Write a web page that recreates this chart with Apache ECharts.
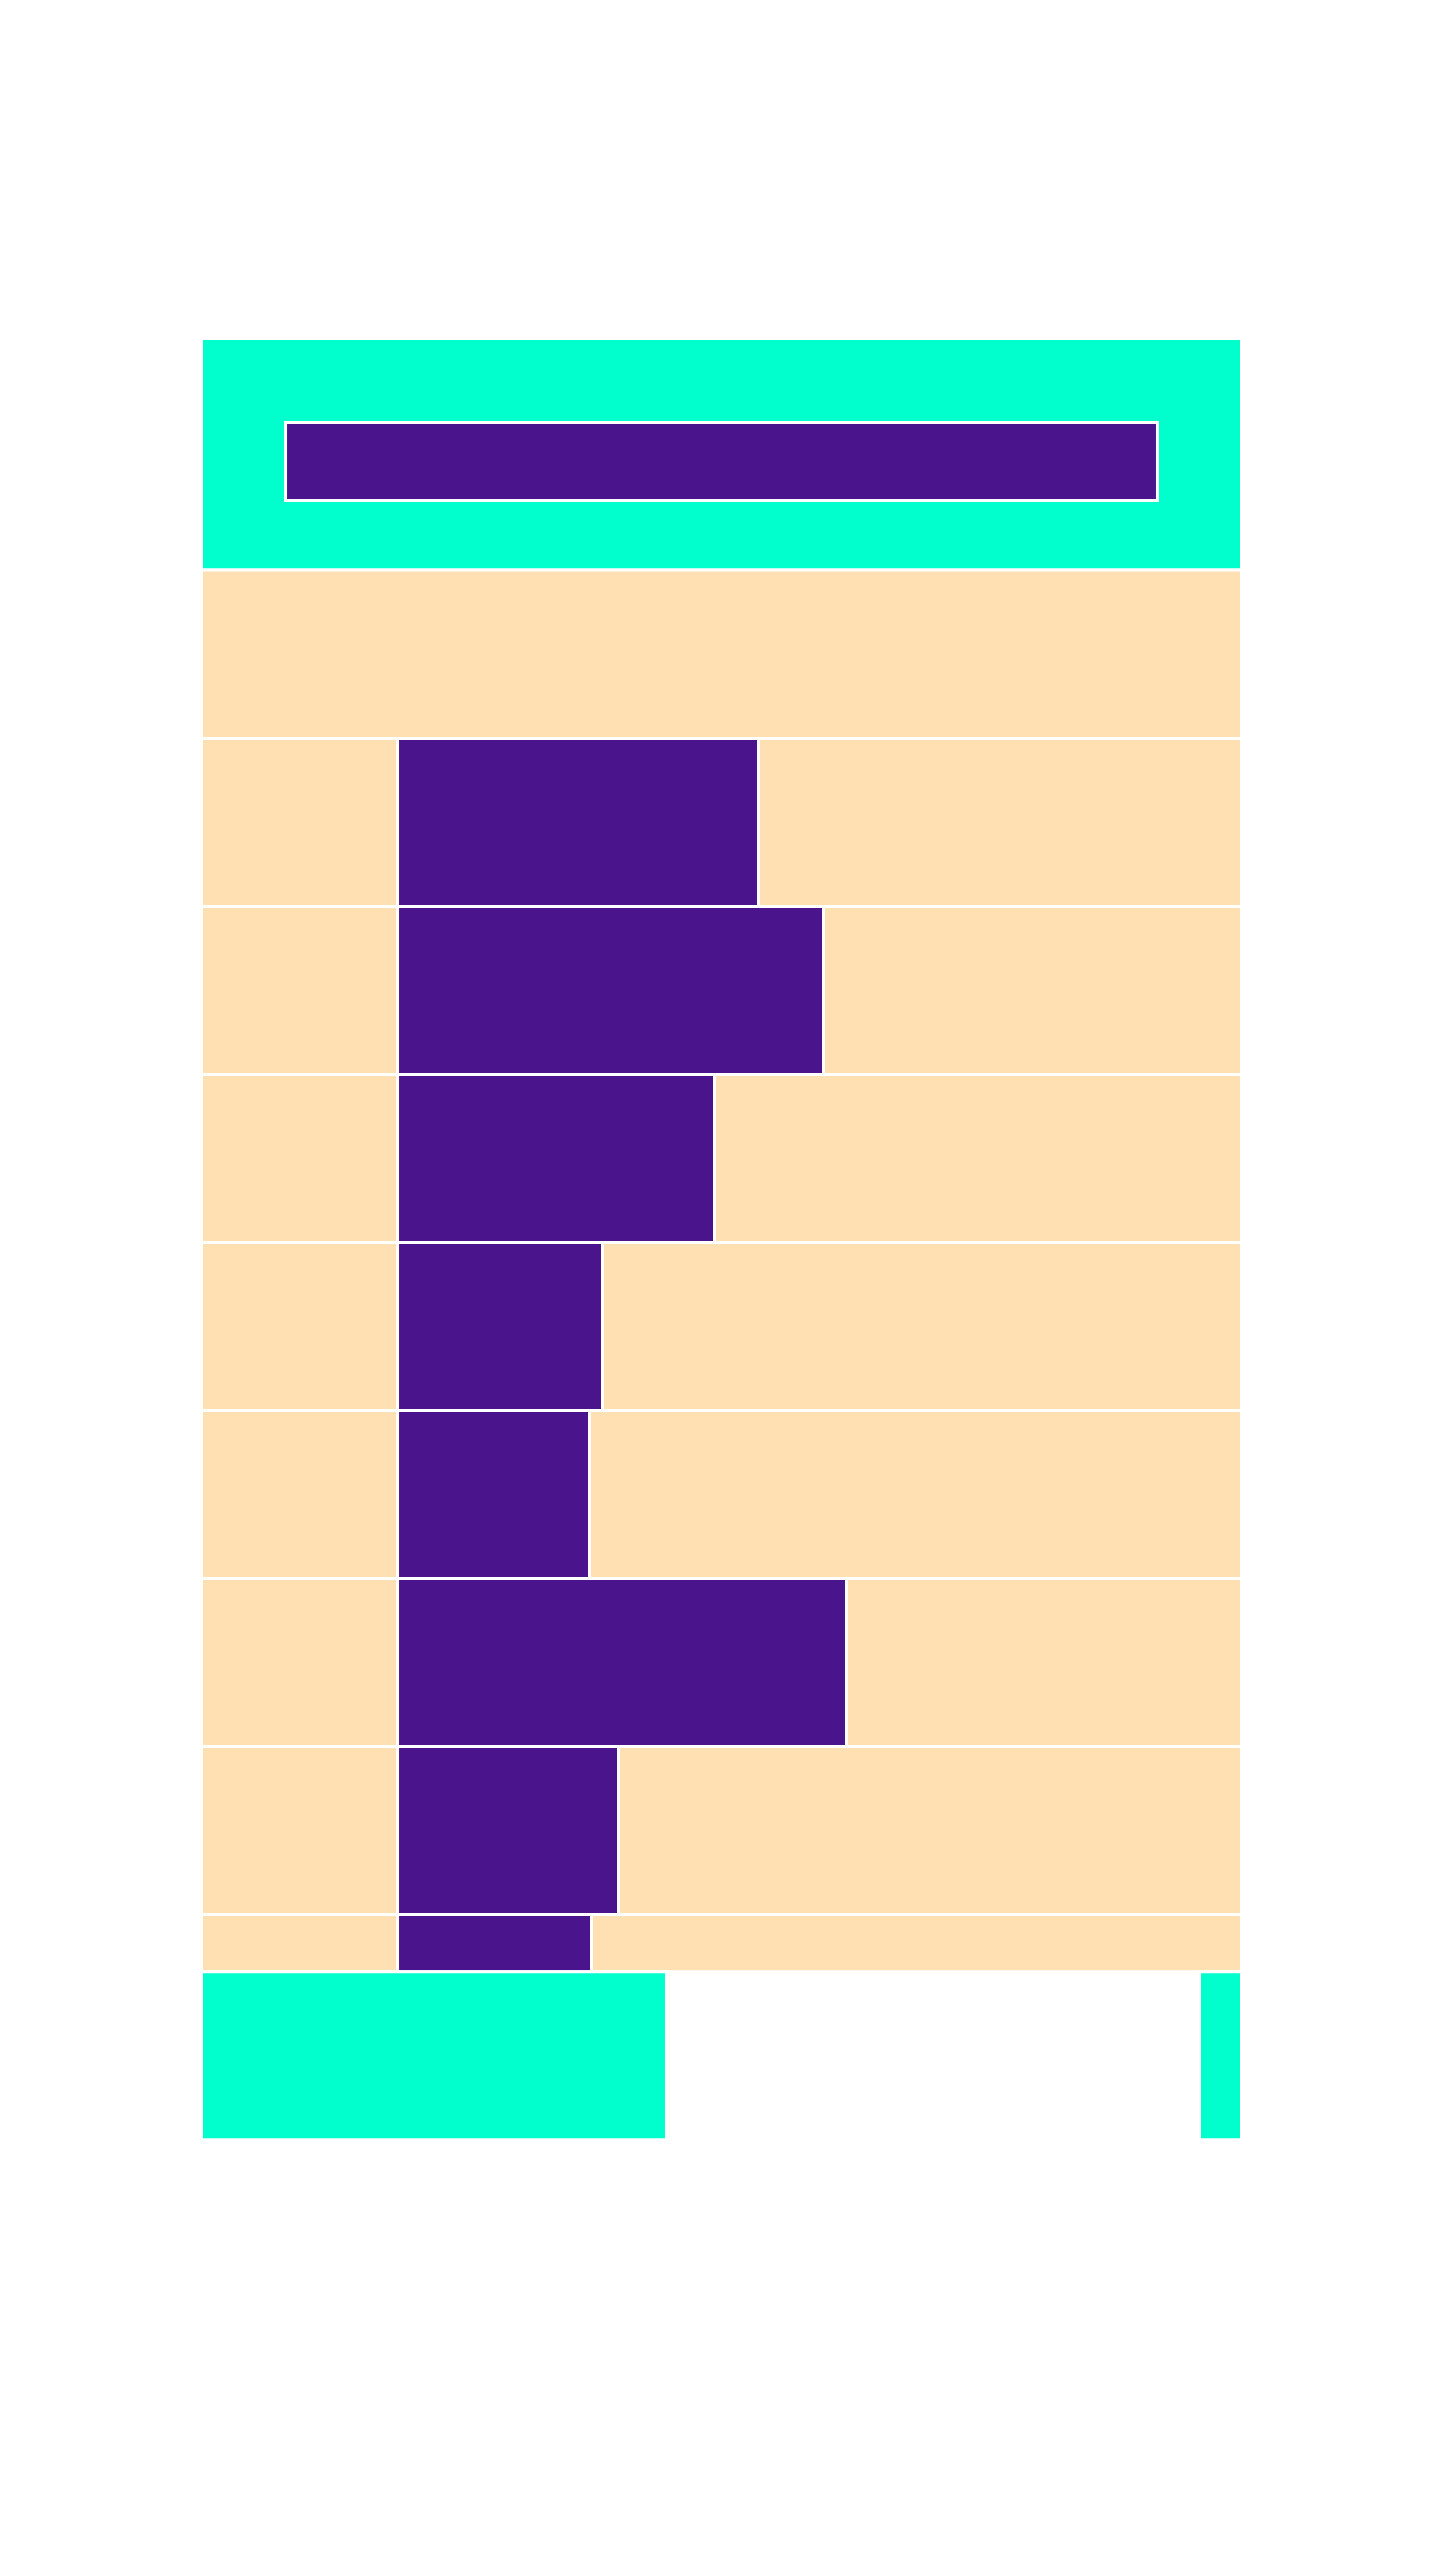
<!DOCTYPE html>
<html>
<head>
<meta charset="utf-8">
<style>
  html, body { margin: 0; padding: 0; background: #ffffff; }
  #chart { width: 1440px; height: 2560px; }
</style>
<script src="https://cdn.jsdelivr.net/npm/echarts@6/dist/echarts.min.js"></script>
</head>
<body>
<div id="chart"></div>
<script>
// ---- data (x in percent of total width, y in row units) ----
const topBlockSpan = 1.378;          // height of the top cyan block
const topInnerX = [8.08, 91.92];     // inner purple bar of the top block
const topInnerY = [0.5, 0.964];
const headerSpan = 1.003;            // full peach header row
const barStart = 18.85;              // where purple bars begin
const barEnds = [53.56, 59.81, 49.33, 38.56, 37.31, 62.02, 40.10, 37.50];
const rowSpans = [1, 1, 1, 1, 1, 1, 1, 0.34];
const footerSpan = 1.0;
const footerSegments = [[0, 44.71], [95.96, 100]];

const COLORS = { cyan: '#00FFCC', peach: '#FFE0B2', purple: '#4A148C' };

// ---- build rectangles from the data ----
const rects = [];
let y = 0;
rects.push([0, 100, y, y + topBlockSpan, 'cyan']);
rects.push([topInnerX[0], topInnerX[1], topInnerY[0], topInnerY[1], 'purple']);
y += topBlockSpan;
rects.push([0, 100, y, y + headerSpan, 'peach']);
y += headerSpan;
barEnds.forEach((end, i) => {
  const s = rowSpans[i];
  rects.push([0, barStart, y, y + s, 'peach']);
  rects.push([barStart, end, y, y + s, 'purple']);
  rects.push([end, 100, y, y + s, 'peach']);
  y += s;
});
footerSegments.forEach(seg => rects.push([seg[0], seg[1], y, y + footerSpan, 'cyan']));
y += footerSpan;
const yMax = y;

const ROW_PX = 168;
const chart = echarts.init(document.getElementById('chart'));
chart.setOption({
  backgroundColor: '#ffffff',
  animation: false,
  grid: { left: 201.5, top: 338.5, width: 1040, height: yMax * ROW_PX },
  xAxis: { type: 'value', min: 0, max: 100, show: false },
  yAxis: { type: 'value', min: 0, max: yMax, inverse: true, show: false },
  series: [{
    type: 'custom',
    clip: false,
    data: rects.map(r => ({ value: r.slice(0, 4), itemStyle: { color: COLORS[r[4]] } })),
    encode: { x: [0, 1], y: [2, 3] },
    renderItem: function (params, api) {
      const p0 = api.coord([api.value(0), api.value(2)]);
      const p1 = api.coord([api.value(1), api.value(3)]);
      return {
        type: 'rect',
        shape: { x: p0[0], y: p0[1], width: p1[0] - p0[0], height: p1[1] - p0[1] },
        style: { fill: api.visual('color'), stroke: '#ffffff', lineWidth: 3 }
      };
    }
  }]
});
</script>
</body>
</html>
